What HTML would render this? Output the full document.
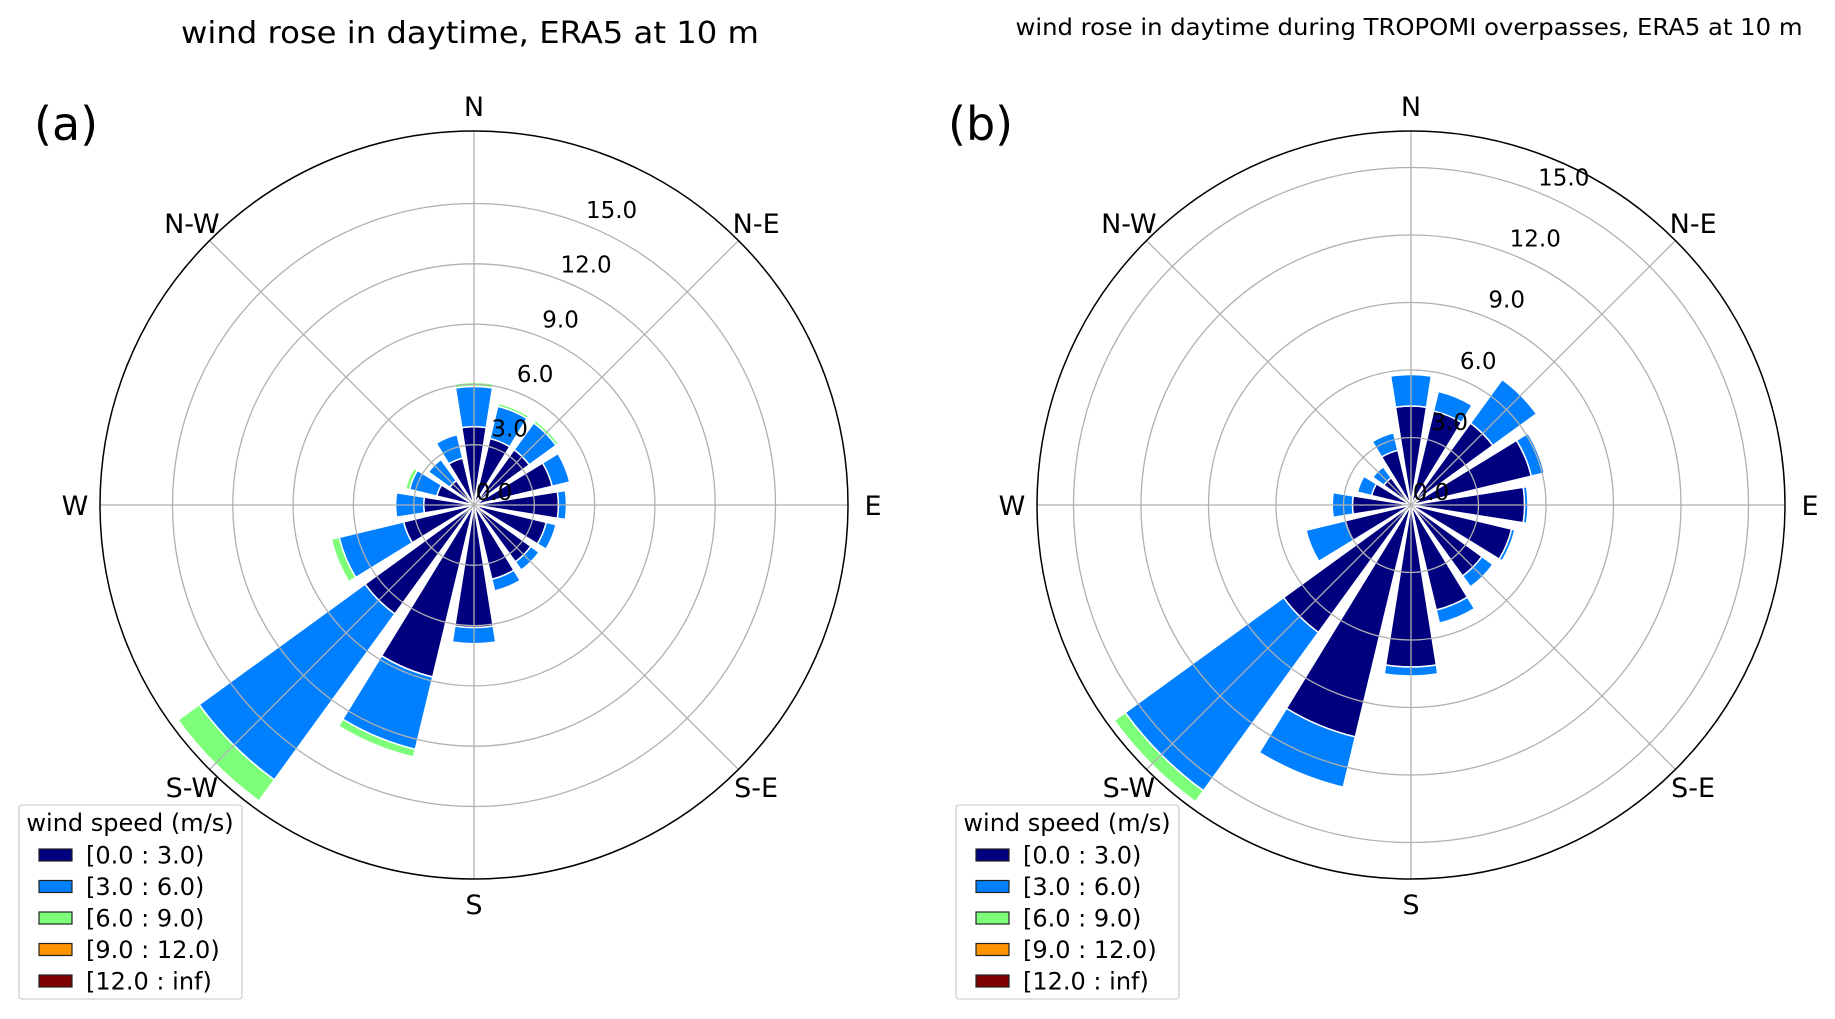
<!DOCTYPE html>
<html><head><meta charset="utf-8">
<style>
html,body{margin:0;padding:0;background:#fff;}
svg{display:block;font-family:"DejaVu Sans","Liberation Sans",sans-serif;}
</style></head>
<body>
<svg id="fig" width="1835" height="1019" viewBox="0 0 1835 1019" xmlns="http://www.w3.org/2000/svg">
<rect width="1835" height="1019" fill="#fff"/>
<text x="470" y="43" font-size="30" text-anchor="middle" textLength="578" lengthAdjust="spacingAndGlyphs">wind rose in daytime, ERA5 at 10 m</text>
<text x="1409" y="35" font-size="23.5" text-anchor="middle" textLength="787" lengthAdjust="spacingAndGlyphs">wind rose in daytime during TROPOMI overpasses, ERA5 at 10 m</text>
<g id="panelA"></g>
<g id="panelB"></g>
</svg>
<script>
const directions = ["N","NNE","NE","ENE","E","ESE","SE","SSE","S","SSW","SW","WSW","W","WNW","NW","NNW"];
const binLabels = ["[0.0 : 3.0)","[3.0 : 6.0)","[6.0 : 9.0)","[9.0 : 12.0)","[12.0 : inf)"];
const ringTicks = [3, 6, 9, 12, 15];
const ringTickLabels = ["3.0","6.0","9.0","12.0","15.0"];
// panel (a) values per speed bin
const a_bin0 = [3.9,3.4,3.4,4.0,4.2,3.7,3.5,3.8,6.1,8.8,6.7,3.6,2.5,1.9,1.5,2.4];
const a_bin1 = [2.0,1.65,1.65,0.9,0.4,0.5,0.5,0.6,0.8,3.7,10.2,3.3,1.4,1.4,1.3,1.2];
const a_bin2 = [0.2,0.15,0.15,0,0,0,0,0,0,0.4,1.3,0.4,0,0.2,0,0];
// panel (b) values per speed bin
const b_bin0 = [4.4,4.3,4.5,5.5,5.05,4.6,3.9,4.8,7.2,10.6,7.0,3.0,2.6,1.8,1.5,2.5];
const b_bin1 = [1.4,0.9,2.4,0.6,0.15,0.15,0.6,0.6,0.4,2.3,8.7,1.8,0.9,0.65,0.6,0.8];
const b_bin2 = [0,0.05,0.05,0,0,0,0,0,0,0,0.6,0,0,0,0,0];

const colors = ["#00007f","#0080ff","#7dff7a","#ff9400","#7f0000"];
const NS = "http://www.w3.org/2000/svg";
function mk(tag, attrs, parent){const e=document.createElementNS(NS,tag);for(const k in attrs)e.setAttribute(k,attrs[k]);parent.appendChild(e);return e;}

function drawRose(g, cx, cy, R, scale, bins, panelLabel, legendX, labelX){
  const rad = v => v*scale;
  const pt = (deg, r) => [cx + r*Math.sin(deg*Math.PI/180), cy - r*Math.cos(deg*Math.PI/180)];
  const half = 9;
  directions.forEach((d,i)=>{
    let cum = 0;
    bins.forEach((arr,b)=>{
      const v = arr[i]; if(!(v>0)) return;
      const r0 = rad(cum), r1 = rad(cum+v); cum += v;
      const ang = i*22.5;
      const p1=pt(ang-half,r0), p2=pt(ang-half,r1), p3=pt(ang+half,r1), p4=pt(ang+half,r0);
      const path = `M${p1[0]},${p1[1]} L${p2[0]},${p2[1]} A${r1},${r1} 0 0 1 ${p3[0]},${p3[1]} L${p4[0]},${p4[1]}` + (r0>0?` A${r0},${r0} 0 0 0 ${p1[0]},${p1[1]}`:"") + " Z";
      const e = mk("path",{d:path,fill:colors[b],stroke:"#fff","stroke-width":1.5},g);
      
      
    });
  });
  ringTicks.forEach((t,k)=>{
    const c = mk("circle",{cx:cx,cy:cy,r:rad(t),fill:"none",stroke:"#b0b0b0","stroke-width":1.3},g);
    
    
  });
  for(let k=0;k<8;k++){
    const p=pt(k*45,R);
    const l = mk("line",{x1:cx,y1:cy,x2:p[0],y2:p[1],stroke:"#b0b0b0","stroke-width":1.3},g);
    
    
  }
  const oc = mk("circle",{cx:cx,cy:cy,r:R,fill:"none",stroke:"#000","stroke-width":1.5},g);
  
  
  const labs = ["0.0"].concat(ringTickLabels), vals=[0].concat(ringTicks);
  labs.forEach((s,k)=>{
    const p = vals[k]===0 ? [cx+20, cy-13] : pt(25, rad(vals[k])+24);
    const t = mk("text",{x:p[0],y:p[1]+8,"font-size":23,"text-anchor":"middle"},g);
    t.textContent = s;
    
    
  });
  const comp=["N","N-E","E","S-E","S","S-W","W","N-W"];
  comp.forEach((s,k)=>{
    const p = pt(k*45, R+25);
    const t = mk("text",{x:p[0],y:p[1]+10,"font-size":27,"text-anchor":"middle"},g);
    t.textContent = s;
    
    
  });
  const pl = mk("text",{x:labelX,y:140,"font-size":46},g);
  pl.textContent = panelLabel;
  
  
  const lg = mk("g",{},g);
  
  
  mk("rect",{x:legendX,y:805,width:223,height:194,rx:3,fill:"#fff",stroke:"#d0d0d0","stroke-width":1.3},lg);
  const lt = mk("text",{x:legendX+111,y:831,"font-size":24,"text-anchor":"middle"},lg);
  lt.textContent = "wind speed (m/s)";
  
  
  binLabels.forEach((s,k)=>{
    const y = 855 + k*31.5;
    const r = mk("rect",{x:legendX+20,y:y-6,width:33,height:12,fill:colors[k],stroke:"#222","stroke-width":1.2},lg);
    
    
    const t = mk("text",{x:legendX+67,y:y+8.5,"font-size":24},lg);
    t.textContent = s;
    
    
  });
}
drawRose(document.getElementById("panelA"), 474, 505, 374, 20.1, [a_bin0,a_bin1,a_bin2], "(a)", 19, 34);
drawRose(document.getElementById("panelB"), 1411, 505, 374, 22.5, [b_bin0,b_bin1,b_bin2], "(b)", 956, 948);
</script>
</body></html>
